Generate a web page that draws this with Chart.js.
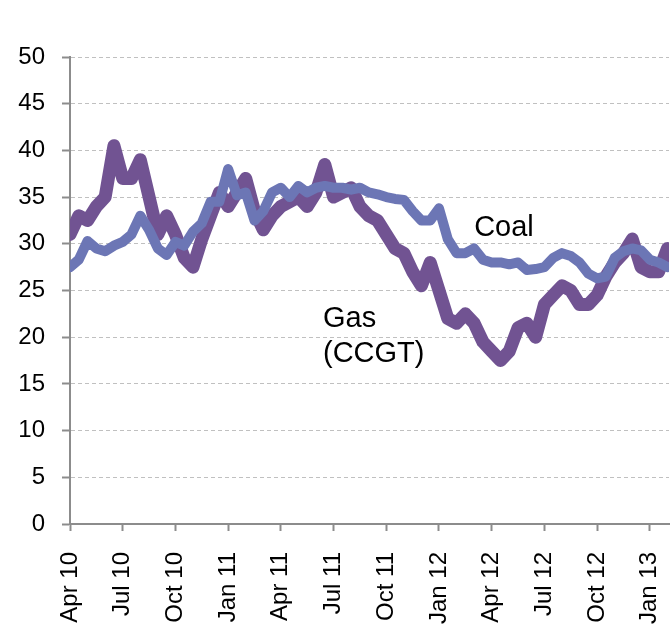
<!DOCTYPE html>
<html>
<head>
<meta charset="utf-8">
<script src="https://cdn.jsdelivr.net/npm/chart.js@4.4.1/dist/chart.umd.min.js"></script>
<style>
  body { margin: 0; background: #fff; }
  #chart { display: block; }
</style>
</head>
<body>
<canvas id="chart" width="671" height="626"></canvas>
<script>
// months since Apr 2010, half-month steps
const months = [];
for (let k = 0; k <= 68; k++) months.push(k / 2);

const gasCCGT = [31, 33, 32.5, 34, 35, 40.5, 37, 37, 39, 35,
  31, 33, 31, 28.5, 27.5, 30.5, 33, 35.5, 34, 35.5,
  37, 33.5, 31.5, 33, 34, 34.5, 35, 34, 35.5, 38.5,
  35, 35.5, 36, 34, 33, 32.5, 31, 29.5, 29, 27,
  25.5, 28, 25, 22, 21.5, 22.5, 21.5, 19.5, 18.5, 17.5,
  18.5, 21, 21.5, 20, 23.5, 24.5, 25.5, 25, 23.5, 23.5,
  24.5, 26.5, 28, 29, 30.5, 27.5, 27, 27, 29.5];

const coal = [27.5, 28.3, 30.3, 29.5, 29.2, 29.8, 30.2, 31, 33, 31.5,
  29.5, 28.8, 30.2, 29.8, 31.3, 32.2, 34.5, 34.5, 38, 35.2,
  35.5, 32.5, 33.5, 35.5, 36, 35, 36.2, 35.5, 36, 36.2,
  36, 36, 35.8, 36, 35.5, 35.3, 35, 34.8, 34.7, 33.5,
  32.5, 32.5, 33.8, 30.5, 29, 29, 29.5, 28.3, 28, 28,
  27.8, 28, 27.2, 27.3, 27.5, 28.5, 29, 28.7, 28, 26.8,
  26.3, 26.5, 28.5, 29.2, 29.5, 29.3, 28.3, 28, 27.5];

const tickMonths = [0, 3, 6, 9, 12, 15, 18, 21, 24, 27, 30, 33];
const tickLabels = ['Apr 10', 'Jul 10', 'Oct 10', 'Jan 11', 'Apr 11', 'Jul 11',
  'Oct 11', 'Jan 12', 'Apr 12', 'Jul 12', 'Oct 12', 'Jan 13'];

// text labels on the plot: [text lines, month, value of first baseline]
const notes = [
  { lines: ['Coal'], x: 23.0, y: 30.8 },
  { lines: ['Gas', '(CCGT)'], x: 14.4, y: 21.1 }
];

const FONT = '"Liberation Sans", Arial, sans-serif';

function toPts(vals) {
  return vals.map((v, i) => ({ x: months[i], y: v }));
}

const notesPlugin = {
  id: 'notes',
  afterDatasetsDraw(chart) {
    const ctx = chart.ctx;
    const sx = chart.scales.x, sy = chart.scales.y;
    ctx.save();
    ctx.fillStyle = '#000';
    ctx.font = '29px ' + FONT;
    ctx.textAlign = 'left';
    ctx.textBaseline = 'alphabetic';
    notes.forEach(n => {
      const px = sx.getPixelForValue(n.x);
      const py = sy.getPixelForValue(n.y);
      n.lines.forEach((t, i) => ctx.fillText(t, px, py + i * 35));
    });
    ctx.restore();
  }
};

new Chart(document.getElementById('chart'), {
  type: 'line',
  data: {
    datasets: [{
      label: 'Coal',
      data: toPts(coal),
      borderColor: 'rgb(108,118,181)',
      borderWidth: 10,
      pointRadius: 0,
      borderJoinStyle: 'round',
      borderCapStyle: 'round',
      tension: 0
    }, {
      label: 'Gas (CCGT)',
      data: toPts(gasCCGT),
      borderColor: 'rgb(113,83,146)',
      borderWidth: 13,
      pointRadius: 0,
      borderJoinStyle: 'round',
      borderCapStyle: 'round',
      tension: 0
    }]
  },
  options: {
    responsive: false,
    animation: false,
    layout: { padding: { top: 57, right: 2, left: 0, bottom: 0 } },
    plugins: { legend: { display: false }, tooltip: { enabled: false } },
    scales: {
      x: {
        type: 'linear',
        min: 0,
        max: 34.09,
        afterBuildTicks: s => { s.ticks = tickMonths.map(v => ({ value: v })); },
        afterFit: s => { s.height = 102; s.paddingLeft = 0; s.paddingRight = 0; },
        grid: {
          drawOnChartArea: false,
          drawTicks: true,
          tickLength: 7,
          tickColor: '#8c8c8c',
          tickWidth: 2
        },
        border: { color: '#8c8c8c', width: 2 },
        ticks: {
          minRotation: 90,
          maxRotation: 90,
          padding: 21,
          color: '#000',
          font: { family: FONT, size: 24 },
          callback: v => tickLabels[tickMonths.indexOf(v)]
        }
      },
      y: {
        min: 0,
        max: 50,
        afterFit: s => { s.width = 70; },
        grid: {
          color: '#c0c0c0',
          lineWidth: 1,
          tickLength: 8,
          tickColor: '#8c8c8c',
          tickWidth: 2,
          tickBorderDash: []
        },
        border: { color: '#8c8c8c', width: 2, dash: [4, 3] },
        ticks: {
          stepSize: 5,
          padding: 17,
          color: '#000',
          font: { family: FONT, size: 24 }
        }
      }
    }
  },
  plugins: [notesPlugin]
});
</script>
</body>
</html>
